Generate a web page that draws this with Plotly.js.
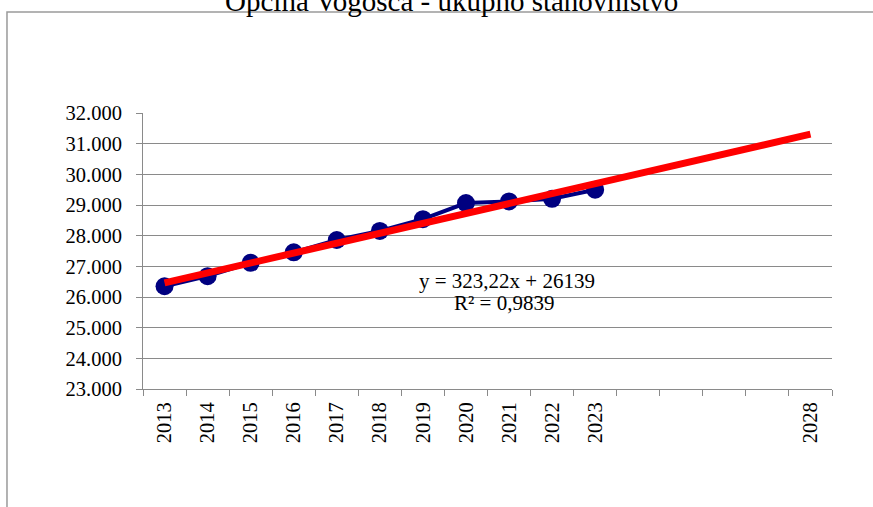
<!DOCTYPE html>
<html>
<head>
<meta charset="utf-8">
<script src="https://cdn.plot.ly/plotly-3.0.1.min.js"></script>
<style>html,body{margin:0;padding:0;background:#fff;}#chart{width:873px;height:507px;}</style>
</head>
<body>
<div id="chart"></div>
<script>
// Categories (2024–2027 have empty labels in the original)
const categories = ['2013','2014','2015','2016','2017','2018','2019','2020','2021','2022','2023',
                    '\u200b','\u200b\u200b','\u200b\u200b\u200b','\u200b\u200b\u200b\u200b','2028'];
const years = ['2013','2014','2015','2016','2017','2018','2019','2020','2021','2022','2023'];
const population = [26351, 26679, 27115, 27456, 27859, 28154, 28538, 29062, 29115, 29203, 29498];
// Linear trend (y = 323,22x + 26139) at first and last category
const trendYears = ['2013', '2028'];
const trendValues = [26462, 31311];
const titleText = 'Općina Vogošća - ukupno stanovništvo';
const eqText = 'y = 323,22x + 26139';
const r2Text = 'R² = 0,9839';

const FONT = "'Liberation Serif', 'Times New Roman', serif";
const GRID = '#8a8a8a';

const traces = [
  {
    x: years, y: population, type: 'scatter', mode: 'lines+markers',
    line: {color: '#000080', width: 4},
    marker: {color: '#000080', size: 18, symbol: 'circle'},
    hoverinfo: 'skip'
  },
  {
    x: trendYears, y: trendValues, type: 'scatter', mode: 'lines',
    line: {color: '#ff0000', width: 7},
    hoverinfo: 'skip'
  }
];

const layout = {
  width: 873, height: 507,
  margin: {l: 143, r: 41, t: 113, b: 118},
  paper_bgcolor: '#ffffff', plot_bgcolor: '#ffffff',
  separators: ',.',
  showlegend: false,
  font: {family: FONT, size: 20.5, color: '#000000'},
  title: {
    text: titleText,
    font: {family: FONT, size: 29, color: '#000000'},
    x: 0.448, xanchor: 'center', xref: 'paper',
    y: 0.998, yref: 'container', yanchor: 'middle'
  },
  xaxis: {
    type: 'category',
    categoryorder: 'array', categoryarray: categories,
    range: [-0.5, 15.5],
    tickson: 'boundaries',
    ticks: 'outside', ticklen: 6, tickcolor: GRID, tickwidth: 1,
    tickangle: -90,
    showgrid: false, zeroline: false,
    showline: true, linecolor: GRID, linewidth: 1,
    tickfont: {family: FONT, size: 20.5, color: '#000'},
    ticklabelstandoff: 4,
    fixedrange: true
  },
  yaxis: {
    range: [23000, 32000], dtick: 1000, tick0: 23000,
    tickformat: ',d',
    ticks: 'outside', ticklen: 6, tickcolor: GRID, tickwidth: 1,
    showgrid: true, gridcolor: GRID, gridwidth: 1,
    zeroline: false,
    showline: true, linecolor: GRID, linewidth: 1,
    tickfont: {family: FONT, size: 20.5, color: '#000'},
    ticklabelstandoff: 10,
    fixedrange: true
  },
  shapes: [{
    type: 'rect', xref: 'paper', yref: 'paper',
    x0: -0.1974, x1: 1.2, y0: -0.6, y1: 1.366,
    line: {color: '#9a9a9a', width: 1.5}, fillcolor: 'rgba(0,0,0,0)', layer: 'below'
  }],
  annotations: [
    {text: eqText, xref: 'paper', yref: 'paper', x: 0.528, y: 0.393,
     xanchor: 'center', yanchor: 'middle', showarrow: false,
     font: {family: FONT, size: 21, color: '#000'}},
    {text: r2Text, xref: 'paper', yref: 'paper', x: 0.524, y: 0.313,
     xanchor: 'center', yanchor: 'middle', showarrow: false,
     font: {family: FONT, size: 21, color: '#000'}}
  ]
};

Plotly.newPlot('chart', traces, layout, {staticPlot: true, displayModeBar: false});
</script>
</body>
</html>
